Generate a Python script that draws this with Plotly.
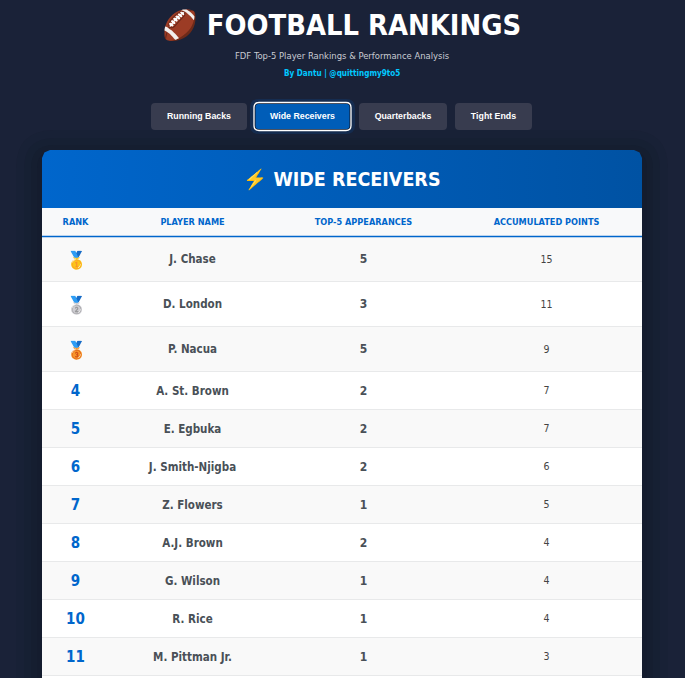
"""
Football rankings table, wide receivers tab, drawn as a plotly figure in page pixels.
"""
import plotly.graph_objects as go

# data
ranks = ["🥇", "🥈", "🥉", "4", "5", "6", "7", "8", "9", "10", "11"]
players = ["J. Chase", "D. London", "P. Nacua", "A. St. Brown", "E. Egbuka", "J. Smith-Njigba",
           "Z. Flowers", "A.J. Brown", "G. Wilson", "R. Rice", "M. Pittman Jr."]
appearances = [5, 3, 5, 2, 2, 2, 1, 2, 1, 1, 1]
points = [15, 11, 9, 7, 7, 6, 5, 4, 4, 4, 3]
columns = ["RANK", "PLAYER NAME", "TOP-5 APPEARANCES", "ACCUMULATED POINTS"]
tabs = ["Running Backs", "Wide Receivers", "Quarterbacks", "Tight Ends"]

W, H = 685, 678
BODY = "DejaVu Sans Condensed, DejaVu Sans, Noto Color Emoji"
ARIAL = "Liberation Sans"
BG = "#1a2238"

# layout in pixels
card_l, card_r = 42, 642
head_top, head_bot, table_head_bot = 150, 208, 236.5
col_x = [75.5, 192.5, 363.5, 546.5]
tab_edges = [(151, 247), (254, 351), (359, 447), (455, 532)]
tab_top, tab_bot = 103, 130


def rounded(x0, y0, x1, y1, r):
    return (f"M{x0+r},{y0} L{x1-r},{y0} Q{x1},{y0} {x1},{y0+r} L{x1},{y1-r} Q{x1},{y1} {x1-r},{y1} "
            f"L{x0+r},{y1} Q{x0},{y1} {x0},{y1-r} L{x0},{y0+r} Q{x0},{y0} {x0+r},{y0} Z")


shapes = []

# soft shadow around the card
for grow, alpha in [(26, 0.05), (18, 0.06), (11, 0.07), (5, 0.08)]:
    shapes.append(dict(type="path", path=rounded(card_l-grow, head_top-grow+6, card_r+grow, H+60, 12+grow),
                       fillcolor=f"rgba(8,10,20,{alpha})", line_width=0, layer="below"))

# white card, rows and rules
shapes.append(dict(type="rect", x0=card_l, x1=card_r, y0=head_bot, y1=H, fillcolor="#ffffff",
                   line_width=0, layer="below"))
shapes.append(dict(type="rect", x0=card_l, x1=card_r, y0=head_bot, y1=table_head_bot, fillcolor="#f8f9fa",
                   line_width=0, layer="below"))

row_y = []
top = 237
for i in range(len(players)):
    h = 45 if i < 3 else 38
    if i % 2 == 0:
        shapes.append(dict(type="rect", x0=card_l, x1=card_r, y0=top, y1=top+h-1, fillcolor="#f9f9f9",
                           line_width=0, layer="below"))
    shapes.append(dict(type="line", x0=card_l, x1=card_r, y0=top+h-0.5, y1=top+h-0.5,
                       line=dict(color="#e8e9ea", width=1), layer="below"))
    row_y.append(top+(h-1)/2)
    top += h

shapes.append(dict(type="line", x0=card_l, x1=card_r, y0=table_head_bot, y1=table_head_bot,
                   line=dict(color="#0066cc", width=1.3), layer="below"))

# tabs, the active one has a white ring, a dark gap and a blue fill
for i, (x0, x1) in enumerate(tab_edges):
    if i == 1:
        shapes.append(dict(type="path", path=rounded(x0-4, tab_top-4, x1+4, tab_bot+4, 9),
                           fillcolor="rgba(0,102,204,0.16)", line_width=0, layer="below"))
        shapes.append(dict(type="path", path=rounded(x0, tab_top-0.5, x1, tab_bot+0.5, 5), fillcolor="#10182b",
                           line=dict(color="#ffffff", width=1.3), layer="below"))
        shapes.append(dict(type="path", path=rounded(x0+1.5, tab_top+1, x1-1.5, tab_bot-1, 3), fillcolor="#005db8",
                           line_width=0, layer="below"))
    else:
        shapes.append(dict(type="path", path=rounded(x0, tab_top, x1, tab_bot, 4), fillcolor="#383c4f",
                           line_width=0, layer="below"))

fig = go.Figure()

# blue card header, rounded on top, with a left to right gradient
r = 8
hx = [card_l, card_l, card_l+2.4, card_l+r, card_r-r, card_r-2.4, card_r, card_r, card_l]
hy = [head_bot, head_top+r, head_top+2.4, head_top, head_top, head_top+2.4, head_top+r, head_bot, head_bot]
fig.add_trace(go.Scatter(x=hx, y=hy, mode="lines", line_width=0, fill="toself", hoverinfo="skip",
                         fillgradient=dict(type="horizontal", colorscale=[[0, "#0066cc"], [1, "#0052a3"]])))

# table body
rank_sizes = [17 if i < 3 else 15 for i in range(len(ranks))]
rank_x = [col_x[0]+1 if i < 3 else col_x[0] for i in range(len(ranks))]
rank_y = [y+3 if i < 3 else y+1.5 for i, y in enumerate(row_y)]
fig.add_trace(go.Scatter(x=rank_x, y=rank_y, mode="text", text=[f"<b>{v}</b>" for v in ranks],
                         textfont=dict(family=BODY, size=rank_sizes, color="#0066cc")))
fig.add_trace(go.Scatter(x=[col_x[1]]*len(players), y=[y+1.5 for y in row_y], mode="text",
                         text=[f"<b>{v}</b>" for v in players],
                         textfont=dict(family=BODY, size=11.5, color="#495057")))
fig.add_trace(go.Scatter(x=[col_x[2]]*len(players), y=[y+1 for y in row_y], mode="text",
                         text=[f"<b>{v}</b>" for v in appearances],
                         textfont=dict(family=BODY, size=12, color="#495057")))
fig.add_trace(go.Scatter(x=[col_x[3]]*len(players), y=[y+1 for y in row_y], mode="text",
                         text=[str(v) for v in points],
                         textfont=dict(family=BODY, size=10.5, color="#444444")))
fig.add_trace(go.Scatter(x=col_x, y=[222.5]*4, mode="text", text=[f"<b>{c}</b>" for c in columns],
                         textfont=dict(family=BODY, size=9.1, color="#0066cc")))

# tab labels
fig.add_trace(go.Scatter(x=[(a+b)/2 for a, b in tab_edges], y=[116.5]*4, mode="text",
                         text=[f"<b>{t}</b>" for t in tabs],
                         textfont=dict(family=ARIAL, size=8.8, color="#ffffff")))


def label(x, y, text, size, color, family=BODY):
    return dict(x=x, y=y, text=text, showarrow=False, xref="x", yref="y", xanchor="center", yanchor="middle",
                font=dict(family=family, size=size, color=color))


fig.update_layout(
    width=W, height=H, margin=dict(l=0, r=0, t=0, b=0), showlegend=False,
    paper_bgcolor=BG, plot_bgcolor=BG,
    xaxis=dict(range=[0, W], visible=False, fixedrange=True),
    yaxis=dict(range=[H, 0], visible=False, fixedrange=True),
    shapes=shapes,
    annotations=[
        label(341, 25, "<b>🏈 FOOTBALL RANKINGS</b>", 28.8, "#ffffff"),
        label(342, 55, "FDF Top-5 Player Rankings &amp; Performance Analysis", 9.4, "#c9ccd3"),
        label(342, 73, "<b>By Dantu | @quittingmy9to5</b>", 8.1, "#00c8ff"),
        label(342, 179, "<b>⚡️ WIDE RECEIVERS</b>", 19.5, "#ffffff"),
    ],
)

# the page's default body margin would shift everything by 8px
fig.write_html("out.html", config=dict(displayModeBar=False),
               post_script="document.body.style.margin='0';document.body.style.overflow='hidden';"
                           f"document.body.style.background='{BG}';")
